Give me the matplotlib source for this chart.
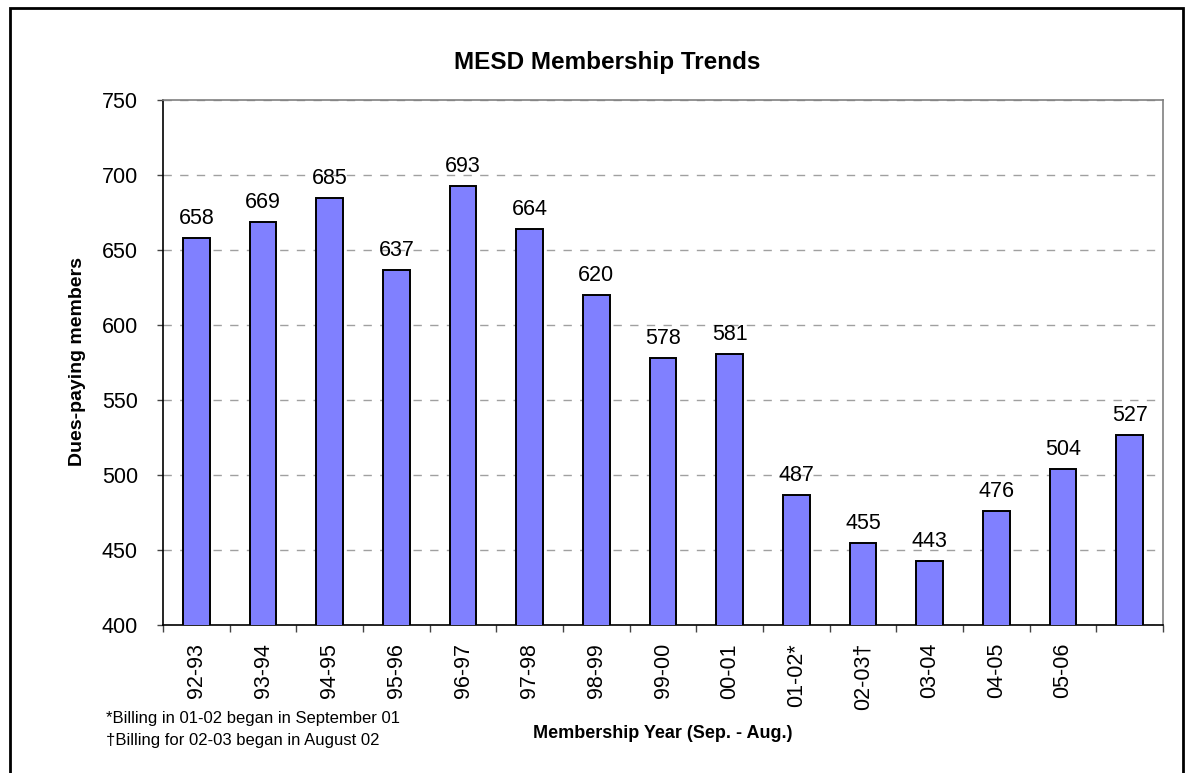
import matplotlib
matplotlib.use("Agg")
import matplotlib.pyplot as plt
from matplotlib.patches import Rectangle
from matplotlib.ticker import FixedLocator

plt.rcParams['font.family'] = ['Liberation Sans', 'DejaVu Sans']

years = ['92-93', '93-94', '94-95', '95-96', '96-97', '97-98', '98-99', '99-00',
         '00-01', '01-02*', '02-03\u2020', '03-04', '04-05', '05-06', '']
members = [658, 669, 685, 637, 693, 664, 620, 578, 581, 487, 455, 443, 476, 504, 527]
yticks = [400, 450, 500, 550, 600, 650, 700, 750]

W, H = 1187, 773
fig = plt.figure(figsize=(W / 100, H / 100), dpi=100)

def fx(px):
    return px / W

def fy(py):
    return 1 - py / H

ax = fig.add_axes([fx(163), fy(625), fx(1163) - fx(163), fy(100) - fy(625)])

x = list(range(len(members)))
bars = ax.bar(x, members, width=0.4, color='#8080FF', edgecolor='black',
              linewidth=1.4, zorder=3)
for xi, v in zip(x, members):
    ax.annotate(str(v), (xi, v), xytext=(0, 10), textcoords='offset points',
                ha='center', va='baseline', fontsize=15.5, zorder=4)

ax.set_xlim(-0.5, len(members) - 0.5)
ax.set_ylim(400, 750)
ax.set_yticks(yticks)
ax.set_yticklabels([str(t) for t in yticks], fontsize=15.5)
ax.tick_params(axis='y', length=4.5, width=1, pad=13.5, color='#444444')

ax.xaxis.set_major_locator(FixedLocator([i - 0.5 for i in range(len(members) + 1)]))
ax.xaxis.set_minor_locator(FixedLocator(x))
ax.set_xticklabels([], minor=False)
ax.set_xticklabels(years, minor=True, rotation=90, fontsize=15.5, va='top')
ax.tick_params(axis='x', which='major', length=5, width=1, color='#444444')
ax.tick_params(axis='x', which='minor', length=0, pad=13)

ax.yaxis.grid(True, color='#a0a0a0', linestyle=(0, (6, 6)), linewidth=1, zorder=0)
ax.set_axisbelow(True)
for s in ['left', 'bottom']:
    ax.spines[s].set_color('black')
    ax.spines[s].set_linewidth(1.2)
for s in ['top', 'right']:
    ax.spines[s].set_color('#808080')
    ax.spines[s].set_linewidth(1.2)

fig.text(fx(607), fy(63), 'MESD Membership Trends', ha='center', va='center',
         fontsize=17.5, fontweight='bold')
fig.text(fx(78), fy(362), 'Dues-paying members', ha='center', va='center',
         rotation=90, fontsize=14, fontweight='bold')
fig.text(fx(663), fy(734), 'Membership Year (Sep. - Aug.)', ha='center', va='center',
         fontsize=13, fontweight='bold')
fig.text(fx(106), fy(719), '*Billing in 01-02 began in September 01', ha='left',
         va='center', fontsize=12)
fig.text(fx(106), fy(740), '\u2020Billing for 02-03 began in August 02', ha='left',
         va='center', fontsize=12)

border = Rectangle((fx(10), fy(800)), fx(1183) - fx(10), fy(8) - fy(800),
                   transform=fig.transFigure, fill=False, edgecolor='black',
                   linewidth=2, clip_on=False)
fig.patches.append(border)

fig.savefig('out.png', dpi=100)
